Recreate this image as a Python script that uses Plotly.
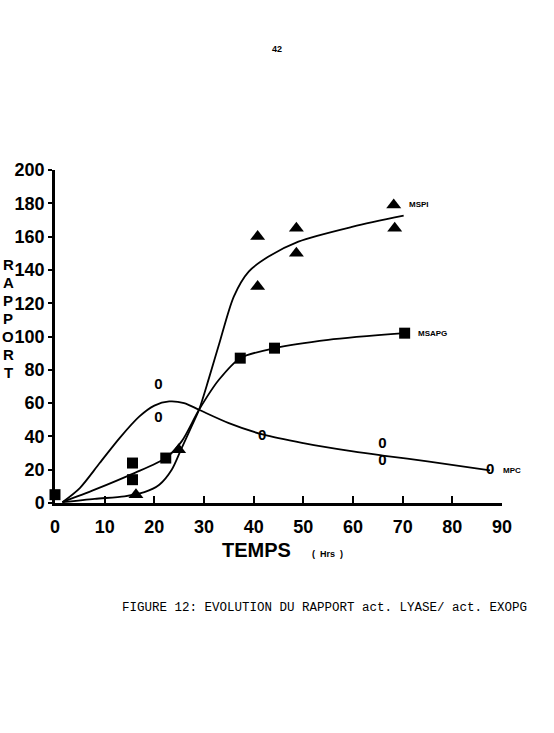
import plotly.graph_objects as go

# ---------------- data ----------------
x_ticks = [0, 10, 20, 30, 40, 50, 60, 70, 80, 90]
y_ticks = [0, 20, 40, 60, 80, 100, 120, 140, 160, 180, 200]

# measured points
mspi_t = [16.3, 24.9, 40.8, 40.8, 48.6, 48.6, 68.2, 68.4]
mspi_v = [5, 32, 160, 130, 165, 150, 179, 165]

msapg_t = [0.0, 15.6, 15.6, 22.3, 37.3, 44.2, 70.4]
msapg_v = [5, 24, 14, 27, 87, 93, 102]

mpc_t = [20.8, 20.8, 41.7, 65.9, 65.9, 87.6]
mpc_v = [71, 51, 40, 35, 25, 19.6]

# hand-drawn fitted curves
mspi_fit_t = [1.5, 8, 14, 18, 21, 23.5, 25.5, 27.5, 29, 31, 33, 36, 39, 43, 49, 60, 70.2]
mspi_fit_v = [0.5, 2.5, 4, 6.5, 11, 20, 33, 46, 56, 75, 95, 124, 139, 148, 157, 166, 172.6]

msapg_fit_t = [1.5, 8, 15.6, 22.3, 25.5, 29, 33, 37.3, 44.2, 55, 70.4]
msapg_fit_v = [0.5, 8, 17.5, 27, 37, 56, 74, 87, 93, 98, 102]

mpc_fit_t = [1.5, 5, 9, 13, 17, 20, 23, 26, 29, 35, 42, 50, 60, 66, 75, 87.6]
mpc_fit_v = [0.5, 9, 24, 39, 52, 58.5, 61, 60, 56, 48, 41, 36, 31, 28.5, 25, 19.6]

series_labels = ["MSPI", "MSAPG", "MPC"]
x_title = "TEMPS"
x_unit = "(  Hrs  )"
y_title = "RAPPORT"
caption = "FIGURE 12: EVOLUTION DU RAPPORT act. LYASE/ act. EXOPG"
page_no = "42"

# ---------------- figure ----------------
W, H = 554, 733
ML, MR, MT, MB = 55, 52, 170, 230
PW, PH = W - ML - MR, H - MT - MB

def px_to_paper(px, py):
    return (px - ML) / PW, (H - MB - py) / PH

BOLD = "Liberation Sans, Arial, sans-serif"

fig = go.Figure()

for ft, fv in [(mspi_fit_t, mspi_fit_v), (msapg_fit_t, msapg_fit_v), (mpc_fit_t, mpc_fit_v)]:
    fig.add_trace(go.Scatter(x=ft, y=fv, mode="lines",
                             line=dict(color="black", width=1.8, shape="spline", smoothing=0.8),
                             hoverinfo="skip", showlegend=False, cliponaxis=False))

fig.add_trace(go.Scatter(x=mspi_t, y=mspi_v, mode="markers",
                         marker=dict(symbol="triangle-up", size=13, color="black"),
                         showlegend=False, cliponaxis=False))
fig.add_trace(go.Scatter(x=msapg_t, y=msapg_v, mode="markers",
                         marker=dict(symbol="square", size=11, color="black"),
                         showlegend=False, cliponaxis=False))
fig.add_trace(go.Scatter(x=mpc_t, y=mpc_v, mode="text", text=["0"] * len(mpc_t),
                         textposition="middle center",
                         textfont=dict(family=BOLD, size=15, color="black", weight="bold"),
                         showlegend=False, cliponaxis=False))

annotations = []
# series end labels
label_pos = [(mspi_t[-2] + 2.6, mspi_v[-2]), (msapg_t[-1] + 2.2, msapg_v[-1]), (mpc_t[-1] + 2.2, mpc_v[-1])]
for lab, (lx, ly) in zip(series_labels, label_pos):
    annotations.append(dict(x=lx, y=ly, xref="x", yref="y", text=lab, showarrow=False,
                            xanchor="left", yanchor="middle",
                            font=dict(family=BOLD, size=8, color="black", weight="bold")))

# x title
tx, ty = px_to_paper(256, 550)
annotations.append(dict(x=tx, y=ty, xref="paper", yref="paper", text=x_title, showarrow=False,
                        xanchor="center", yanchor="middle",
                        font=dict(family=BOLD, size=20, color="black", weight="bold")))
ux, uy = px_to_paper(327, 554)
annotations.append(dict(x=ux, y=uy, xref="paper", yref="paper", text=x_unit, showarrow=False,
                        xanchor="center", yanchor="middle",
                        font=dict(family=BOLD, size=9, color="black", weight="bold")))

# vertical stacked y title
for i, ch in enumerate(y_title):
    lx, ly = px_to_paper(8, 264 + i * 18)
    annotations.append(dict(x=lx, y=ly, xref="paper", yref="paper", text=ch, showarrow=False,
                            xanchor="center", yanchor="middle", borderpad=0,
                            font=dict(family=BOLD, size=15, color="black", weight="bold")))

# caption
cx, cy = px_to_paper(120, 608)
annotations.append(dict(x=cx, y=cy, xref="paper", yref="paper", text=caption, showarrow=False,
                        xanchor="left", yanchor="middle",
                        font=dict(family="Liberation Mono, DejaVu Sans Mono, monospace", size=12.5, color="black")))
# page number
nx, ny = px_to_paper(277, 49)
annotations.append(dict(x=nx, y=ny, xref="paper", yref="paper", text=page_no, showarrow=False,
                        xanchor="center", yanchor="middle",
                        font=dict(family=BOLD, size=9, color="black", weight="bold")))

fig.update_layout(
    width=W, height=H,
    margin=dict(l=ML, r=MR, t=MT, b=MB),
    paper_bgcolor="white", plot_bgcolor="white",
    showlegend=False,
    annotations=annotations,
    xaxis=dict(range=[0, 90], tickvals=x_ticks, ticktext=[str(v) for v in x_ticks],
               showline=True, linecolor="black", linewidth=2.5,
               ticks="inside", ticklen=7, tickwidth=2, tickcolor="black",
               showgrid=False, zeroline=False, ticklabelstandoff=6,
               tickfont=dict(family=BOLD, size=18, color="black", weight="bold")),
    yaxis=dict(range=[0, 200], tickvals=y_ticks, ticktext=[str(v) for v in y_ticks],
               showline=True, linecolor="black", linewidth=2.5,
               ticks="outside", ticklen=4, tickwidth=2, tickcolor="black",
               showgrid=False, zeroline=False, ticklabelstandoff=0,
               tickfont=dict(family=BOLD, size=18, color="black", weight="bold")),
)

fig.write_html("out.html")
